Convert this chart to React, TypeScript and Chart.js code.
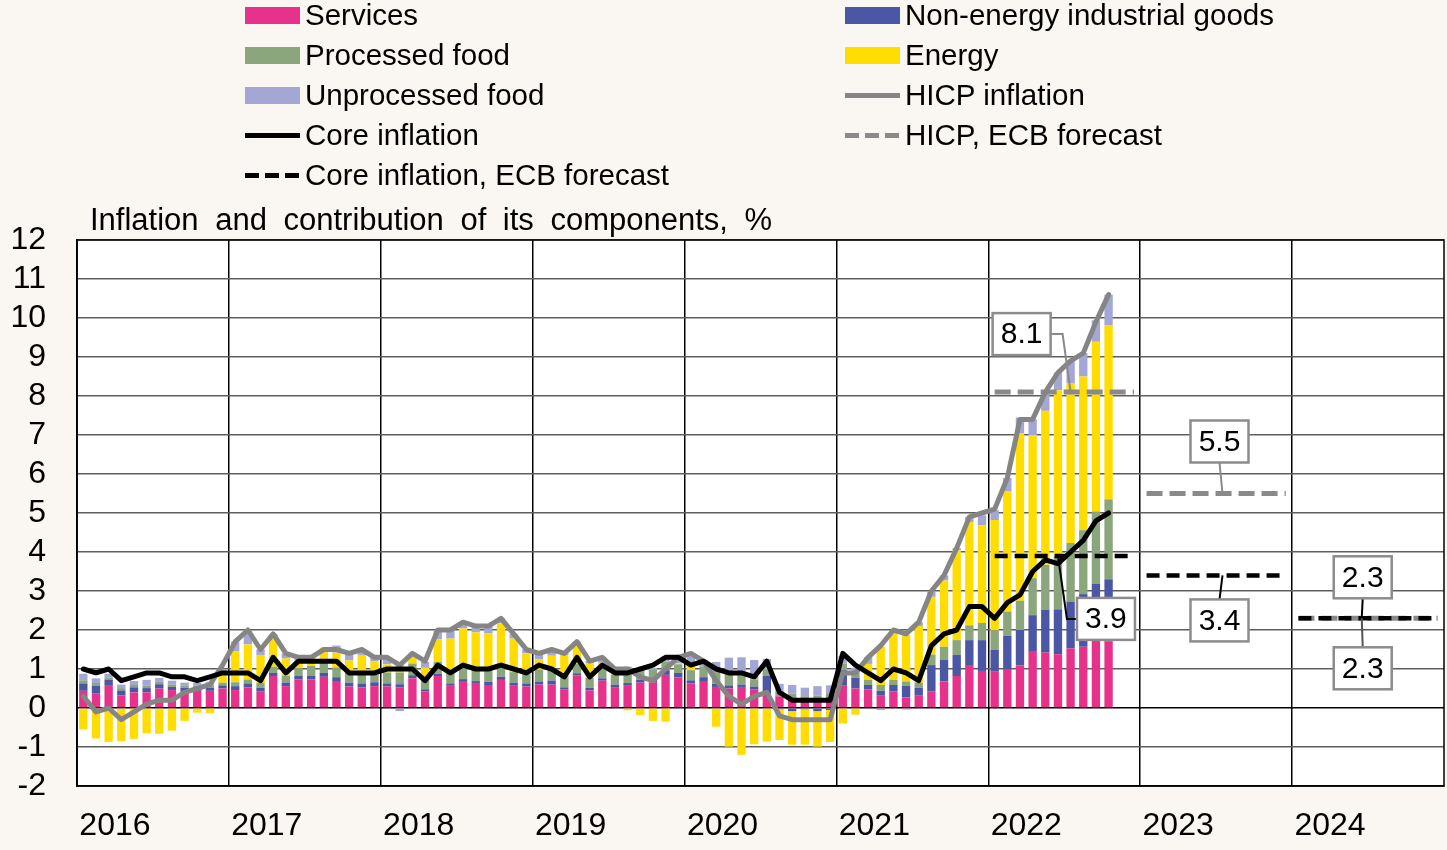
import React, { useEffect, useRef } from 'react';
import { Chart, registerables } from 'chart.js';

Chart.register(...registerables);

const FONT = '"Liberation Sans", Arial, sans-serif';
const BG = '#faf6f1';

// ---------- data ----------
const years = ['2016', '2017', '2018', '2019', '2020', '2021', '2022', '2023', '2024'];

const seriesNames = {
  services: 'Services',
  neig: 'Non-energy industrial goods',
  processedFood: 'Processed food',
  energy: 'Energy',
  unprocessedFood: 'Unprocessed food',
  hicp: 'HICP inflation',
  core: 'Core inflation',
  hicpForecast: 'HICP, ECB forecast',
  coreForecast: 'Core inflation, ECB forecast',
};

// contributions, percentage points, Jan 2016 – Oct 2022
const services = [
  0.44, 0.38, 0.59, 0.32, 0.40, 0.40, 0.50, 0.46, 0.44, 0.44, 0.44, 0.50,
  0.46, 0.53, 0.42, 0.82, 0.56, 0.73, 0.73, 0.80, 0.67, 0.55, 0.53, 0.56,
  0.55, 0.53, 0.76, 0.42, 0.82, 0.57, 0.67, 0.62, 0.59, 0.72, 0.57, 0.55,
  0.60, 0.60, 0.47, 0.83, 0.45, 0.70, 0.52, 0.57, 0.65, 0.66, 0.85, 0.78,
  0.63, 0.67, 0.54, 0.50, 0.54, 0.47, 0.38, 0.30, 0.25, 0.20, 0.22, 0.28,
  0.57, 0.50, 0.48, 0.33, 0.42, 0.27, 0.33, 0.42, 0.68, 0.82, 1.08, 0.95,
  0.93, 1.00, 1.09, 1.44, 1.42, 1.38, 1.53, 1.57, 1.74, 1.70,
];
const neig = [
  0.19, 0.19, 0.13, 0.13, 0.13, 0.11, 0.11, 0.08, 0.08, 0.08, 0.08, 0.08,
  0.10, 0.10, 0.10, 0.08, 0.09, 0.10, 0.10, 0.10, 0.12, 0.10, 0.10, 0.10,
  0.08, 0.08, 0.08, 0.06, 0.06, 0.06, 0.07, 0.07, 0.08, 0.08, 0.08, 0.08,
  0.08, 0.10, 0.06, 0.06, 0.07, 0.06, 0.08, 0.07, 0.07, 0.07, 0.12, 0.12,
  0.08, 0.12, 0.08, 0.08, 0.06, 0.08, 0.45, -0.03, -0.08, -0.03, -0.08, -0.05,
  0.40, 0.27, 0.11, 0.11, 0.17, 0.30, 0.19, 0.68, 0.55, 0.54, 0.66, 0.79,
  0.56, 0.85, 0.91, 0.94, 1.10, 1.15, 1.20, 1.35, 1.45, 1.60,
];
const processedFood = [
  0.08, 0.07, 0.06, 0.06, 0.06, 0.06, 0.06, 0.06, 0.05, 0.05, 0.06, 0.07,
  0.10, 0.10, 0.12, 0.16, 0.18, 0.20, 0.25, 0.26, 0.25, 0.28, 0.27, 0.26,
  0.28, 0.30, 0.30, 0.30, 0.30, 0.30, 0.30, 0.30, 0.30, 0.27, 0.27, 0.25,
  0.30, 0.28, 0.30, 0.25, 0.25, 0.25, 0.25, 0.25, 0.25, 0.25, 0.22, 0.22,
  0.26, 0.27, 0.30, 0.30, 0.22, 0.18, 0.15, 0.12, 0.12, 0.10, 0.10, 0.10,
  0.17, 0.14, 0.13, 0.15, 0.13, 0.11, 0.13, 0.27, 0.34, 0.38, 0.38, 0.44,
  0.51, 0.62, 0.75, 0.95, 1.15, 1.37, 1.50, 1.64, 1.85, 2.05,
];
const energy = [
  -0.55, -0.78, -0.87, -0.85, -0.79, -0.65, -0.66, -0.58, -0.33, -0.12, -0.13, 0.25,
  0.79, 0.90, 0.72, 0.74, 0.44, 0.18, 0.21, 0.39, 0.38, 0.29, 0.46, 0.28,
  0.21, 0.20, 0.19, 0.25, 0.58, 0.85, 1.00, 0.95, 0.95, 1.10, 0.86, 0.52,
  0.27, 0.36, 0.53, 0.53, 0.38, 0.15, 0.05, -0.06, -0.18, -0.33, -0.35, 0.02,
  0.19, -0.03, -0.48, -0.99, -1.20, -0.93, -0.86, -0.79, -0.86, -0.91, -0.91, -0.82,
  -0.40, -0.17, 0.41, 0.98, 1.25, 1.20, 1.45, 1.48, 1.70, 2.30, 2.65, 2.50,
  2.82, 3.08, 4.29, 3.67, 3.95, 4.25, 4.09, 3.94, 4.35, 4.47,
];
const unprocessedFood = [
  0.17, 0.12, 0.10, 0.09, 0.10, 0.15, 0.10, 0.10, 0.08, 0.07, 0.09, 0.10,
  0.25, 0.37, 0.14, 0.10, 0.13, 0.09, -0.03, -0.03, 0.18, 0.18, 0.14, 0.10,
  0.18, -0.08, 0.07, 0.15, 0.24, 0.22, 0.16, 0.16, 0.18, 0.13, 0.12, 0.10,
  0.15, 0.16, 0.04, 0.03, 0.05, 0.14, 0.10, 0.17, 0.05, 0.05, 0.13, 0.13,
  0.24, 0.17, 0.26, 0.41, 0.48, 0.50, 0.28, 0.20, 0.22, 0.22, 0.24, 0.20,
  0.19, 0.12, 0.17, -0.05, 0.03, -0.04, 0.10, 0.15, 0.13, 0.06, 0.13, 0.26,
  0.25, 0.35, 0.41, 0.40, 0.45, 0.45, 0.58, 0.60, 0.55, 0.78,
];
const hicp = [
  0.3, -0.1, 0.0, -0.3, -0.1, 0.1, 0.2, 0.2, 0.4, 0.5, 0.6, 1.1,
  1.7, 2.0, 1.5, 1.9, 1.4, 1.3, 1.3, 1.5, 1.5, 1.4, 1.5, 1.3,
  1.3, 1.1, 1.4, 1.2, 2.0, 2.0, 2.2, 2.1, 2.1, 2.3, 1.9, 1.5,
  1.4, 1.5, 1.4, 1.7, 1.2, 1.3, 1.0, 1.0, 0.8, 0.7, 1.0, 1.3,
  1.4, 1.2, 0.7, 0.3, 0.1, 0.3, 0.4, -0.2, -0.3, -0.3, -0.3, -0.3,
  0.9, 0.9, 1.3, 1.6, 2.0, 1.9, 2.2, 3.0, 3.4, 4.1, 4.9, 5.0,
  5.1, 5.9, 7.4, 7.4, 8.1, 8.6, 8.9, 9.1, 9.9, 10.6,
];
const core = [
  1.0, 0.9, 1.0, 0.7, 0.8, 0.9, 0.9, 0.8, 0.8, 0.7, 0.8, 0.9,
  0.9, 0.9, 0.7, 1.3, 0.9, 1.2, 1.2, 1.2, 1.2, 0.9, 0.9, 0.9,
  1.0, 1.0, 1.0, 0.7, 1.1, 0.9, 1.1, 1.0, 1.0, 1.1, 1.0, 0.9,
  1.1, 1.0, 0.8, 1.3, 0.8, 1.1, 0.9, 0.9, 1.0, 1.1, 1.3, 1.3,
  1.1, 1.2, 1.0, 0.9, 0.9, 0.8, 1.2, 0.4, 0.2, 0.2, 0.2, 0.2,
  1.4, 1.1, 0.9, 0.7, 1.0, 0.9, 0.7, 1.6, 1.9, 2.0, 2.6, 2.6,
  2.3, 2.7, 2.9, 3.5, 3.8, 3.7, 4.0, 4.3, 4.8, 5.0,
];
const forecastYears = ['2022', '2023', '2024'];
const hicpForecast = [8.1, 5.5, 2.3];
const coreForecast = [3.9, 3.4, 2.3];
const yTicks = { min: -2, max: 12, step: 1 };

// ---------- styles ----------
const COLORS = {
  services: '#e6328a',
  neig: '#4b56a4',
  processedFood: '#8ba67c',
  energy: '#ffdd00',
  unprocessedFood: '#a4a7d6',
  hicp: '#858585',
  core: '#000000',
  hicpForecast: '#8a8a8a',
  coreForecast: '#000000',
};

const labels = years.flatMap((y) =>
  Array.from({ length: 12 }, (_, m) => `${y}-${String(m + 1).padStart(2, '0')}`)
);
const pad = (arr: number[]) => labels.map((_, i) => (i < arr.length ? arr[i] : null));
const forecastData = (j: number, vals: number[]) =>
  labels.map((l) => (l.startsWith(forecastYears[j]) ? vals[j] : null));

// callouts: which forecast, which year index, anchor month, box offset (px)
const callouts = [
  { vals: hicpForecast, j: 0, month: 6, dx: -49, dy: -58, leader: 'right', color: '#8a8a8a' },
  { vals: hicpForecast, j: 1, month: 6, dx: -3, dy: -52, leader: 'bottom', color: '#8a8a8a' },
  { vals: coreForecast, j: 0, month: 5, dx: 48, dy: 63, leader: 'left', color: '#000' },
  { vals: coreForecast, j: 1, month: 6, dx: -3, dy: 45, leader: 'top', color: '#000' },
  { vals: hicpForecast, j: 2, month: 5, dx: 1, dy: -41, leader: 'bottom', color: '#000' },
  { vals: coreForecast, j: 2, month: 5, dx: 1, dy: 50, leader: 'top', color: '#555' },
];

const framePlugin = {
  id: 'frame',
  beforeDraw(chart: any) {
    const { ctx, chartArea: a, width, height } = chart;
    ctx.save();
    ctx.fillStyle = BG;
    ctx.fillRect(0, 0, width, height);
    ctx.fillStyle = '#ffffff';
    ctx.fillRect(a.left, a.top, a.right - a.left, a.bottom - a.top);
    ctx.restore();
  },
  afterDatasetsDraw(chart: any) {
    const { ctx } = chart;
    const xs = chart.scales.x;
    const ys = chart.scales.y;
    const bw = 58;
    const bh = 42;
    ctx.save();
    callouts.forEach((c) => {
      const idx = labels.indexOf(`${forecastYears[c.j]}-01`) + c.month;
      const v = c.vals[c.j];
      const ax = xs.getPixelForValue(idx);
      const ay = ys.getPixelForValue(v);
      const cx = ax + c.dx;
      const cy = ay + c.dy;
      ctx.strokeStyle = c.color;
      ctx.lineWidth = 2;
      ctx.beginPath();
      if (c.leader === 'right') {
        ctx.moveTo(cx + bw / 2, cy);
        ctx.lineTo(cx + bw / 2 + 12, cy);
        ctx.lineTo(ax, ay);
      } else if (c.leader === 'left') {
        ctx.moveTo(cx - bw / 2, cy);
        ctx.lineTo(cx - bw / 2 - 10, cy);
        ctx.lineTo(ax, ay);
      } else if (c.leader === 'bottom') {
        ctx.moveTo(cx, cy + bh / 2);
        ctx.lineTo(ax, ay);
      } else {
        ctx.moveTo(cx, cy - bh / 2);
        ctx.lineTo(ax, ay);
      }
      ctx.stroke();
      ctx.fillStyle = '#ffffff';
      ctx.fillRect(cx - bw / 2, cy - bh / 2, bw, bh);
      ctx.strokeStyle = '#8c8c8c';
      ctx.lineWidth = 2.5;
      ctx.strokeRect(cx - bw / 2, cy - bh / 2, bw, bh);
      ctx.fillStyle = '#000';
      ctx.font = `30px ${FONT}`;
      ctx.textAlign = 'center';
      ctx.textBaseline = 'middle';
      ctx.fillText(v.toFixed(1), cx, cy + 1);
    });
    ctx.restore();
  },
  afterDraw(chart: any) {
    const { ctx, chartArea: a } = chart;
    ctx.save();
    ctx.strokeStyle = '#000';
    ctx.lineWidth = 1.5;
    ctx.strokeRect(a.left, a.top, a.right - a.left, a.bottom - a.top);
    ctx.fillStyle = '#000';
    ctx.font = `31px ${FONT}`;
    ctx.textAlign = 'left';
    ctx.textBaseline = 'middle';
    try { (ctx as any).wordSpacing = '8px'; } catch (e) { /* ignore */ }
    ctx.fillText('Inflation and contribution of its components, %', a.left + 13, a.top - 19);
    ctx.restore();
  },
};

type LegendKind = 'bar' | 'line' | 'dash';
const legendItems: { key: keyof typeof seriesNames; kind: LegendKind; col: number; row: number }[] = [
  { key: 'services', kind: 'bar', col: 0, row: 0 },
  { key: 'neig', kind: 'bar', col: 1, row: 0 },
  { key: 'processedFood', kind: 'bar', col: 0, row: 1 },
  { key: 'energy', kind: 'bar', col: 1, row: 1 },
  { key: 'unprocessedFood', kind: 'bar', col: 0, row: 2 },
  { key: 'hicp', kind: 'line', col: 1, row: 2 },
  { key: 'core', kind: 'line', col: 0, row: 3 },
  { key: 'hicpForecast', kind: 'dash', col: 1, row: 3 },
  { key: 'coreForecast', kind: 'dash', col: 0, row: 4 },
];

function Swatch({ kind, color }: { kind: LegendKind; color: string }) {
  if (kind === 'bar') {
    return <div style={{ position: 'absolute', left: 0, top: -8, width: 55, height: 17, background: color }} />;
  }
  if (kind === 'line') {
    return <div style={{ position: 'absolute', left: 0, top: -2, width: 55, height: 5, background: color }} />;
  }
  return (
    <>
      {[0, 20, 40].map((o) => (
        <div key={o} style={{ position: 'absolute', left: o, top: -2, width: 14, height: 5, background: color }} />
      ))}
    </>
  );
}

export default function App() {
  const ref = useRef<HTMLCanvasElement | null>(null);

  useEffect(() => {
    if (!ref.current) return;
    const barBase = { type: 'bar' as const, stack: 'components', order: 10, barPercentage: 0.66, categoryPercentage: 1, borderWidth: 0 };
    const lineBase = { type: 'line' as const, pointRadius: 0, pointHoverRadius: 0, tension: 0, fill: false, spanGaps: false };
    const datasets: any[] = [
      { ...barBase, label: seriesNames.services, data: pad(services), backgroundColor: COLORS.services },
      { ...barBase, label: seriesNames.neig, data: pad(neig), backgroundColor: COLORS.neig },
      { ...barBase, label: seriesNames.processedFood, data: pad(processedFood), backgroundColor: COLORS.processedFood },
      { ...barBase, label: seriesNames.energy, data: pad(energy), backgroundColor: COLORS.energy },
      { ...barBase, label: seriesNames.unprocessedFood, data: pad(unprocessedFood), backgroundColor: COLORS.unprocessedFood },
    ];
    forecastYears.forEach((_, j) => {
      datasets.push({
        ...lineBase, label: `${seriesNames.hicpForecast} ${forecastYears[j]}`, stack: `hf${j}`, order: 5,
        data: forecastData(j, hicpForecast), borderColor: COLORS.hicpForecast, borderWidth: 5, borderDash: [16, 7],
      });
    });
    forecastYears.forEach((_, j) => {
      datasets.push({
        ...lineBase, label: `${seriesNames.coreForecast} ${forecastYears[j]}`, stack: `cf${j}`, order: 4,
        data: forecastData(j, coreForecast), borderColor: COLORS.coreForecast, borderWidth: 4.5, borderDash: [13, 7],
      });
    });
    datasets.push({
      ...lineBase, label: seriesNames.hicp, stack: 'hicp', order: 3, data: pad(hicp),
      borderColor: COLORS.hicp, borderWidth: 5, borderJoinStyle: 'round', borderCapStyle: 'round',
    });
    datasets.push({
      ...lineBase, label: seriesNames.core, stack: 'core', order: 2, data: pad(core),
      borderColor: COLORS.core, borderWidth: 5, borderJoinStyle: 'round', borderCapStyle: 'round',
    });

    const chart = new Chart(ref.current, {
      type: 'bar',
      data: { labels, datasets },
      plugins: [framePlugin],
      options: {
        responsive: false,
        animation: false,
        events: [],
        layout: { padding: { top: 240, right: 3, bottom: 0, left: 0 } },
        plugins: { legend: { display: false }, tooltip: { enabled: false }, title: { display: false } },
        scales: {
          x: {
            offset: true,
            grid: {
              offset: true,
              drawTicks: false,
              lineWidth: 1.5,
              color: (c: any) => (c.index % 12 === 0 ? '#000000' : 'rgba(0,0,0,0)'),
            },
            border: { display: true, color: '#000', width: 1.5 },
            ticks: {
              autoSkip: false,
              maxRotation: 0,
              minRotation: 0,
              align: 'start',
              labelOffset: -4,
              padding: 21,
              color: '#000',
              font: { family: FONT, size: 32 },
              callback: (_v: any, i: number) => (i % 12 === 0 ? years[i / 12] : ''),
            },
            afterFit: (s: any) => { s.height = 64; s.paddingLeft = 0; s.paddingRight = 0; },
          },
          y: {
            stacked: true,
            min: yTicks.min,
            max: yTicks.max,
            grid: {
              drawTicks: false,
              lineWidth: 1.5,
              color: (c: any) => (c.tick && c.tick.value === 0 ? '#000000' : '#5e5e5e'),
            },
            border: { display: true, color: '#000', width: 1.5 },
            ticks: {
              stepSize: yTicks.step,
              autoSkip: false,
              padding: 31,
              color: '#000',
              font: { family: FONT, size: 32 },
            },
            afterFit: (s: any) => { s.width = 77; s.paddingTop = 0; s.paddingBottom = 0; },
          },
        },
      } as any,
    });
    return () => chart.destroy();
  }, []);

  return (
    <div style={{ position: 'fixed', left: 0, top: 0, width: 1447, height: 850, background: BG, overflow: 'hidden' }}>
      <canvas ref={ref} width={1447} height={850} style={{ position: 'absolute', left: 0, top: 0, width: 1447, height: 850 }} />
      {legendItems.map((it) => (
        <div key={it.key} style={{ position: 'absolute', left: it.col === 0 ? 245 : 845, top: 15 + it.row * 40 }}>
          <Swatch kind={it.kind} color={COLORS[it.key]} />
          <span style={{ position: 'absolute', left: 60, top: -17, fontFamily: FONT, fontSize: 29.5, lineHeight: '34px', whiteSpace: 'nowrap', color: '#000' }}>
            {seriesNames[it.key]}
          </span>
        </div>
      ))}
    </div>
  );
}
